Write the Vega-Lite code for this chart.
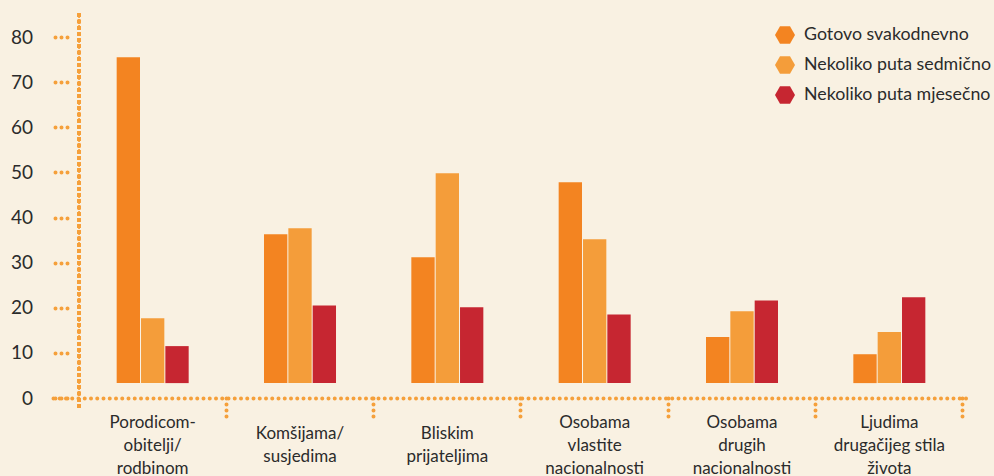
{
  "$schema": "https://vega.github.io/schema/vega-lite/v6.json",
  "width": 916,
  "height": 361,
  "autosize": "none",
  "padding": {"left": 53, "top": 37, "right": 25, "bottom": 78},
  "background": "#F9F1E2",
  "config": {"view": {"stroke": null}, "font": "Lato"},
  "data": {
    "values": [
      {"category": "Porodicom-\nobitelji/\nrodbinom", "series": "Gotovo svakodnevno", "value": 75.5},
      {"category": "Porodicom-\nobitelji/\nrodbinom", "series": "Nekoliko puta sedmično", "value": 17.7},
      {"category": "Porodicom-\nobitelji/\nrodbinom", "series": "Nekoliko puta mjesečno", "value": 11.5},
      {"category": "Komšijama/\nsusjedima", "series": "Gotovo svakodnevno", "value": 36.3},
      {"category": "Komšijama/\nsusjedima", "series": "Nekoliko puta sedmično", "value": 37.6},
      {"category": "Komšijama/\nsusjedima", "series": "Nekoliko puta mjesečno", "value": 20.5},
      {"category": "Bliskim\nprijateljima", "series": "Gotovo svakodnevno", "value": 31.2},
      {"category": "Bliskim\nprijateljima", "series": "Nekoliko puta sedmično", "value": 49.8},
      {"category": "Bliskim\nprijateljima", "series": "Nekoliko puta mjesečno", "value": 20.1},
      {"category": "Osobama\nvlastite\nnacionalnosti", "series": "Gotovo svakodnevno", "value": 47.8},
      {"category": "Osobama\nvlastite\nnacionalnosti", "series": "Nekoliko puta sedmično", "value": 35.2},
      {"category": "Osobama\nvlastite\nnacionalnosti", "series": "Nekoliko puta mjesečno", "value": 18.5},
      {"category": "Osobama\ndrugih\nnacionalnosti", "series": "Gotovo svakodnevno", "value": 13.5},
      {"category": "Osobama\ndrugih\nnacionalnosti", "series": "Nekoliko puta sedmično", "value": 19.2},
      {"category": "Osobama\ndrugih\nnacionalnosti", "series": "Nekoliko puta mjesečno", "value": 21.6},
      {"category": "Ljudima\ndrugačijeg stila\nživota", "series": "Gotovo svakodnevno", "value": 9.7},
      {"category": "Ljudima\ndrugačijeg stila\nživota", "series": "Nekoliko puta sedmično", "value": 14.6},
      {"category": "Ljudima\ndrugačijeg stila\nživota", "series": "Nekoliko puta mjesečno", "value": 22.3}
    ]
  },
  "layer": [
    {
      "mark": {"type": "bar"},
      "encoding": {
        "x": {
          "field": "category",
          "type": "nominal",
          "sort": null,
          "scale": {
            "domain": ["Porodicom-\nobitelji/\nrodbinom", "Komšijama/\nsusjedima", "Bliskim\nprijateljima", "Osobama\nvlastite\nnacionalnosti", "Osobama\ndrugih\nnacionalnosti", "Ljudima\ndrugačijeg stila\nživota"],
            "paddingInner": 0.5113, "paddingOuter": 0.3643, "align": 0.5932
          },
          "axis": {
            "title": null,
            "labels": false,
            "domain": true,
            "domainDash": [0, 6.25],
            "domainCap": "round",
            "domainWidth": 4,
            "domainColor": "#F5A03B",
            "bandPosition": 1.523,
            "ticks": true,
            "tickSize": 18.5,
            "tickDash": [0, 6],
            "tickCap": "round",
            "tickWidth": 4,
            "tickColor": "#F5A03B"
          }
        },
        "xOffset": {
          "field": "series",
          "type": "nominal",
          "sort": null,
          "scale": {"paddingInner": 0.0417, "paddingOuter": 0}
        },
        "y": {
          "field": "value",
          "type": "quantitative",
          "scale": {"domain": [0, 80]},
          "axis": {
            "title": null,
            "values": [0, 10, 20, 30, 40, 50, 60, 70, 80],
            "domain": false,
            "grid": false,
            "offset": -14,
            "tickSize": 12.5,
            "tickDash": [0, 6],
            "tickCap": "round",
            "tickWidth": 4,
            "tickColor": "#F5A03B",
            "labelPadding": 22,
            "labelFontSize": 19,
            "labelColor": "#2b2b2b"
          }
        },
        "y2": {"datum": 3.3},
        "color": {
          "field": "series",
          "type": "nominal",
          "sort": null,
          "scale": {
            "domain": ["Gotovo svakodnevno", "Nekoliko puta sedmično", "Nekoliko puta mjesečno"],
            "range": ["#F38421", "#F49D3A", "#C62631"]
          },
          "legend": {
            "title": null,
            "orient": "none",
            "legendX": 722,
            "legendY": -12,
            "symbolType": "M-1,0L-0.5,-0.866L0.5,-0.866L1,0L0.5,0.866L-0.5,0.866Z",
            "symbolSize": 400,
            "symbolStrokeWidth": 0,
            "labelFontSize": 17.8,
            "labelLimit": 300,
            "labelOffset": 9,
            "rowPadding": 11,
            "labelColor": "#2b2b2b"
          }
        }
      }
    },
    {
      "mark": {"type": "rule", "strokeDash": [0, 6.2], "strokeCap": "round", "strokeWidth": 4, "color": "#F5A03B"},
      "encoding": {
        "x": {"datum": "Porodicom-\nobitelji/\nrodbinom", "type": "nominal", "bandPosition": -0.523},
        "y": {"datum": 84.8},
        "y2": {"datum": -2.7}
      }
    },
    {
      "transform": [{"filter": "length(split(datum.category, '\\n')) == 3 && datum.series == 'Gotovo svakodnevno'"}],
      "mark": {"type": "text", "baseline": "alphabetic", "align": "center", "fontSize": 17, "lineHeight": 23, "lineBreak": "\n", "color": "#2b2b2b"},
      "encoding": {
        "x": {"field": "category", "type": "nominal", "sort": null},
        "y": {"datum": -6.7},
        "text": {"field": "category"}
      }
    },
    {
      "transform": [{"filter": "length(split(datum.category, '\\n')) == 2 && datum.series == 'Gotovo svakodnevno'"}],
      "mark": {"type": "text", "baseline": "alphabetic", "align": "center", "fontSize": 17, "lineHeight": 23, "lineBreak": "\n", "color": "#2b2b2b"},
      "encoding": {
        "x": {"field": "category", "type": "nominal", "sort": null},
        "y": {"datum": -9.1},
        "text": {"field": "category"}
      }
    }
  ]
}
